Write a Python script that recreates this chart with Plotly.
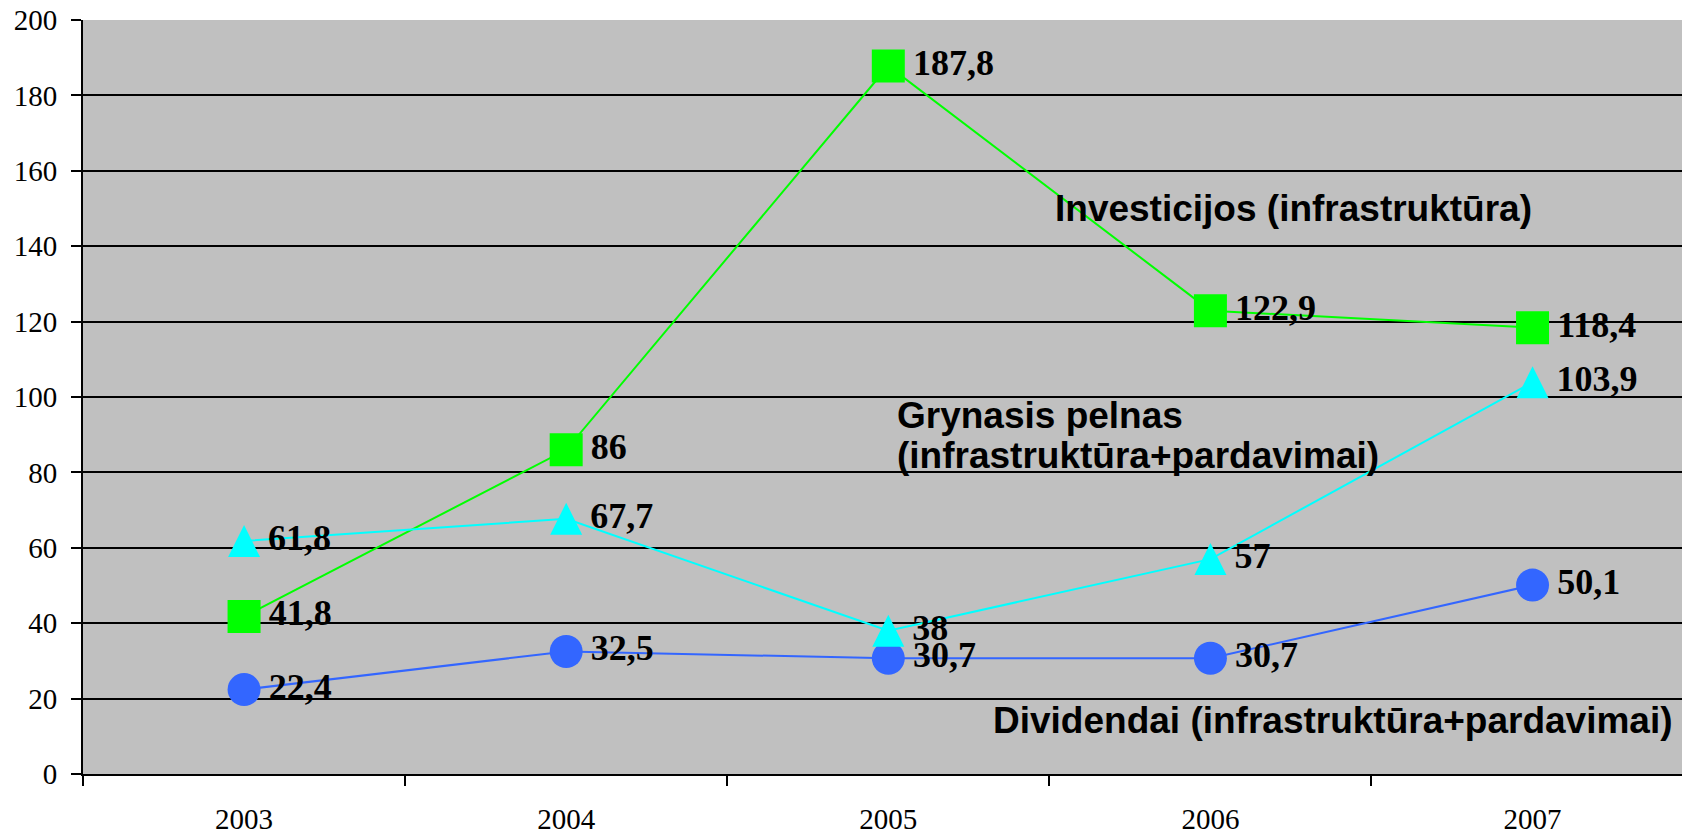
import plotly.graph_objects as go

years = ["2003", "2004", "2005", "2006", "2007"]
investicijos = [41.8, 86, 187.8, 122.9, 118.4]
grynasis_pelnas = [61.8, 67.7, 38, 57, 103.9]
dividendai = [22.4, 32.5, 30.7, 30.7, 50.1]
y_ticks = [0, 20, 40, 60, 80, 100, 120, 140, 160, 180, 200]


def fmt(vals):
    return ["\u200a" + f"{v:g}".replace(".", ",") for v in vals]


label_font = dict(family="Liberation Serif, Times New Roman, serif", size=36,
                  color="black", weight="bold")
note_font = dict(family="Liberation Sans, Arial, sans-serif", size=37, color="black")

fig = go.Figure()

fig.add_trace(go.Scatter(
    x=years, y=investicijos, mode="lines+markers+text",
    line=dict(color="#00FF00", width=2),
    marker=dict(symbol="square", size=33, color="#00FF00"),
    text=fmt(investicijos), textposition="middle right",
    textfont=label_font, cliponaxis=False, name="Investicijos",
))
fig.add_trace(go.Scatter(
    x=years, y=dividendai, mode="lines+markers+text",
    line=dict(color="#3366FF", width=2),
    marker=dict(symbol="circle", size=33, color="#3366FF"),
    text=fmt(dividendai), textposition="middle right",
    textfont=label_font, cliponaxis=False, name="Dividendai",
))
fig.add_trace(go.Scatter(
    x=years, y=grynasis_pelnas, mode="lines+markers+text",
    line=dict(color="#00FFFF", width=2, backoff=0),
    marker=dict(symbol="arrow-down", size=32, angle=180, standoff=16, color="#00FFFF"),
    text=fmt(grynasis_pelnas), textposition="middle right",
    textfont=label_font, cliponaxis=False, name="Grynasis pelnas",
))

notes = [
    ("Investicijos (infrastruktūra)", 2.51, 150.1),
    ("Grynasis pelnas", 2.02, 95.2),
    ("(infrastruktūra+pardavimai)", 2.02, 84.5),
    ("Dividendai (infrastruktūra+pardavimai)", 2.32, 14.2),
]
for txt, xv, yv in notes:
    fig.add_annotation(
        text="<b>" + txt + "</b>", x=xv, y=yv, xref="x", yref="y",
        xanchor="left", yanchor="middle", showarrow=False, font=note_font,
    )

fig.update_layout(
    width=1682, height=834,
    margin=dict(l=83, r=0, t=20, b=60),
    paper_bgcolor="white", plot_bgcolor="#C0C0C0",
    showlegend=False,
    font=dict(family="Liberation Serif, Times New Roman, serif", size=29, color="black"),
)
fig.update_xaxes(
    type="category", range=[-0.5, 4.464],
    showgrid=False, zeroline=False,
    showline=True, linecolor="black", linewidth=2,
    ticks="outside", tickson="boundaries", ticklen=10, tickwidth=2, tickcolor="black",
    ticklabelstandoff=18,
    tickfont=dict(family="Liberation Serif, Times New Roman, serif", size=29, color="black"),
)
fig.update_yaxes(
    range=[0, 200], tickvals=y_ticks,
    showgrid=True, gridcolor="black", gridwidth=2, zeroline=False,
    showline=True, linecolor="black", linewidth=2,
    ticks="outside", ticklen=10, tickwidth=2, tickcolor="black",
    ticklabelstandoff=8,
    tickfont=dict(family="Liberation Serif, Times New Roman, serif", size=29, color="black"),
)

fig.write_html(
    "out.html",
    config={"displayModeBar": False},
    post_script="document.body.style.margin='0';document.body.style.overflow='hidden';",
)
